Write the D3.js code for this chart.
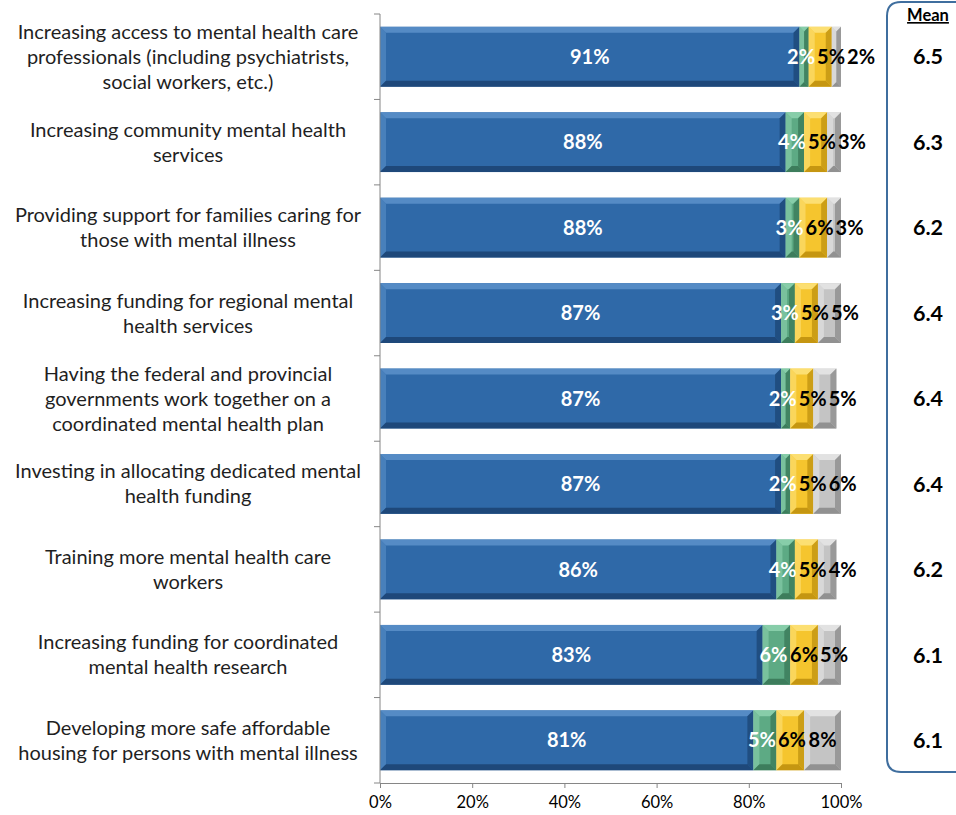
<!DOCTYPE html>
<html>
<head>
<meta charset="utf-8">
<script src="https://cdn.jsdelivr.net/npm/d3@7"></script>
<style>
  html, body { margin: 0; padding: 0; background: #fff; }
  svg { display: block; }
</style>
</head>
<body>
<svg id="chart" width="956" height="815"></svg>
<script>
// Priorities for mental health policy, share of ratings by band
const categories = [
  ["Increasing access to mental health care", "professionals (including psychiatrists,", "social workers, etc.)"],
  ["Increasing community mental health", "services"],
  ["Providing support for families caring for", "those with mental illness"],
  ["Increasing funding for regional mental", "health services"],
  ["Having the federal and provincial", "governments work together on a", "coordinated mental health plan"],
  ["Investing in allocating dedicated mental", "health funding"],
  ["Training more mental health care", "workers"],
  ["Increasing funding for coordinated", "mental health research"],
  ["Developing more safe affordable", "housing for persons with mental illness"]
];
const topBand    = [91, 88, 88, 87, 87, 87, 86, 83, 81];
const midBand    = [2, 4, 3, 3, 2, 2, 4, 6, 5];
const lowBand    = [5, 5, 6, 5, 5, 5, 5, 6, 6];
const dontKnow   = [2, 3, 3, 5, 5, 6, 4, 5, 8];
const means      = ["6.5", "6.3", "6.2", "6.4", "6.4", "6.4", "6.2", "6.1", "6.1"];
const xTicks     = [0, 20, 40, 60, 80, 100];

const seriesList = [
  { values: topBand,  base: "#2f69a8", light: "#5a8fc8", dark: "#1d4777", text: "#ffffff" },
  { values: midBand,  base: "#5daa84", light: "#8cd0ad", dark: "#3b7a5a", text: "#ffffff" },
  { values: lowBand,  base: "#f5c52e", light: "#fde17a", dark: "#c29410", text: "#000000" },
  { values: dontKnow, base: "#c4c4c4", light: "#e6e6e6", dark: "#8e8e8e", text: "#000000" }
];

const FONT = "Lato, 'Open Sans', sans-serif";
const svg = d3.select("#chart");
const x = d3.scaleLinear().domain([0, 100]).range([380, 841]);
const y = d3.scaleBand().domain(d3.range(categories.length)).range([14, 783]).paddingInner(0.3).paddingOuter(0.15);
const step = y.step();

// Mean panel
const panel = svg.append("g");
panel.append("path")
  .attr("d", () => {
    const l = 887, t = 2, b = 772, r = 970, rad = 14;
    return `M${r},${t} L${l + rad},${t} Q${l},${t} ${l},${t + rad} L${l},${b - rad} Q${l},${b} ${l + rad},${b} L${r},${b}`;
  })
  .attr("fill", "none").attr("stroke", "#3f6e9e").attr("stroke-width", 2);
panel.append("text")
  .attr("x", 928).attr("y", 21)
  .attr("text-anchor", "middle")
  .attr("font-family", FONT)
  .attr("font-weight", "bold").attr("font-size", 16.5)
  .attr("text-decoration", "underline")
  .attr("fill", "#000")
  .text("Mean");
panel.selectAll("text.mean").data(means).join("text")
  .attr("class", "mean")
  .attr("x", 928)
  .attr("y", (d, i) => y(i) + y.bandwidth() / 2)
  .attr("dy", "0.36em")
  .attr("text-anchor", "middle")
  .attr("font-family", FONT)
  .attr("font-weight", "bold").attr("font-size", 21.5)
  .attr("fill", "#000")
  .text(d => d);

// Stack the series
const rows = categories.map((c, i) => {
  let acc = 0;
  return seriesList.map((s, k) => {
    const v = s.values[i];
    const seg = { row: i, k, v, x0: acc, x1: acc + v, s };
    acc += v;
    return seg;
  });
});

const bev = 6;
const barG = svg.append("g");
rows.flat().forEach(seg => {
  const x0 = x(seg.x0), x1 = x(seg.x1);
  const y0 = y(seg.row), y1 = y0 + y.bandwidth();
  const w = x1 - x0;
  const b = Math.min(bev, w / 2);
  const g = barG.append("g");
  g.append("rect").attr("x", x0).attr("y", y0).attr("width", w).attr("height", y1 - y0)
    .attr("fill", seg.s.base);
  // bevel faces
  g.append("polygon").attr("points", [[x0, y0], [x1, y0], [x1 - b, y0 + b], [x0 + b, y0 + b]].join(" "))
    .attr("fill", seg.s.light).attr("opacity", 0.9);
  g.append("polygon").attr("points", [[x0, y0], [x0 + b, y0 + b], [x0 + b, y1 - b], [x0, y1]].join(" "))
    .attr("fill", seg.s.light).attr("opacity", 0.6);
  g.append("polygon").attr("points", [[x0, y1], [x0 + b, y1 - b], [x1 - b, y1 - b], [x1, y1]].join(" "))
    .attr("fill", seg.s.dark).attr("opacity", 0.95);
  g.append("polygon").attr("points", [[x1, y0], [x1, y1], [x1 - b, y1 - b], [x1 - b, y0 + b]].join(" "))
    .attr("fill", seg.s.dark).attr("opacity", 0.8);
});

// Segment value labels; the three narrow segments get their labels spread
// left-to-right so that neighbouring labels do not sit on top of each other.
const labelG = svg.append("g");
const gap = 2;
rows.forEach(row => {
  const cy = y(row[0].row) + y.bandwidth() / 2;
  const nodes = row.map(seg => {
    const t = labelG.append("text")
      .attr("y", cy)
      .attr("dy", "0.36em")
      .attr("text-anchor", "middle")
      .attr("font-family", FONT)
      .attr("font-weight", "bold").attr("font-size", 20)
      .attr("fill", seg.s.text)
      .text(seg.v + "%");
    return { t, c: x((seg.x0 + seg.x1) / 2), w: t.node().getComputedTextLength() };
  });
  const small = nodes.slice(1);
  if (small[0].c + small[0].w / 2 + gap > small[1].c - small[1].w / 2) small[0].c -= 3;
  for (let k = 1; k < small.length; k++) {
    const prev = small[k - 1], cur = small[k];
    const minC = prev.c + prev.w / 2 + gap + cur.w / 2;
    if (cur.c < minC) cur.c = minC;
  }
  nodes.forEach(n => n.t.attr("x", n.c));
});

// Axes
const axisColor = "#868686";
const bottom = y.range()[1];
const xAxis = svg.append("g")
  .attr("transform", `translate(0,${bottom})`)
  .call(d3.axisBottom(x).tickValues(xTicks).tickFormat(d => d + "%").tickSize(5).tickSizeOuter(0));
xAxis.select(".domain").attr("stroke", axisColor);
xAxis.selectAll(".tick line").attr("stroke", axisColor);
xAxis.selectAll(".tick text")
  .attr("font-family", FONT)
  .attr("font-size", 16.5).attr("fill", "#000").attr("dy", "1.05em");

const yEdges = d3.range(categories.length + 1).map(i => y.range()[0] + i * step);
const yAxis = svg.append("g");
yAxis.append("line")
  .attr("x1", x(0)).attr("x2", x(0))
  .attr("y1", y.range()[0]).attr("y2", bottom)
  .attr("stroke", axisColor);
yAxis.selectAll("line.tk").data(yEdges).join("line")
  .attr("class", "tk")
  .attr("x1", x(0) - 6).attr("x2", x(0))
  .attr("y1", d => d).attr("y2", d => d)
  .attr("stroke", axisColor);

// Category labels
const catG = svg.append("g");
categories.forEach((lines, i) => {
  const cy = y(i) + y.bandwidth() / 2;
  const lh = 25;
  const t = catG.append("text")
    .attr("text-anchor", "middle")
    .attr("font-family", FONT)
    .attr("font-size", 20)
    .attr("fill", "#1f1f1f");
  lines.forEach((ln, j) => {
    t.append("tspan")
      .attr("x", 188)
      .attr("y", cy + (j - (lines.length - 1) / 2) * lh)
      .attr("dy", "0.35em")
      .text(ln);
  });
});
</script>
</body>
</html>
